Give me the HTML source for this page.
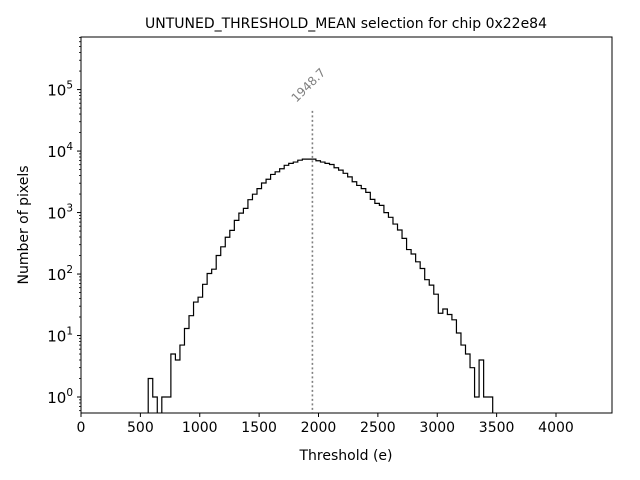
<!DOCTYPE html>
<html><head><meta charset="utf-8"><style>
body{margin:0;background:#fff;}
svg{display:block;font-family:"DejaVu Sans","Liberation Sans",sans-serif;}
</style></head><body>
<svg id="chart" width="640" height="480" viewBox="0 0 640 480">
<rect width="640" height="480" fill="#fff"/>
<text x="346" y="28" font-size="14" text-anchor="middle">UNTUNED_THRESHOLD_MEAN selection for chip 0x22e84</text>
<g id="axes"></g>
<path id="hist" fill="none" stroke="#000" stroke-width="1.2"/>
<rect x="81" y="37" width="531" height="376" fill="none" stroke="#000" stroke-width="1"/>
<text x="346" y="460" font-size="14" text-anchor="middle">Threshold (e)</text>
<text transform="translate(28,225) rotate(-90)" font-size="14" text-anchor="middle">Number of pixels</text>
</svg>
<script>
const binStart = 566;
const binWidth = 38.17;
const counts = [2,1,0,1,1,5,4,7,13,21,35,42,68,102,120,200,277,397,513,745,980,1170,1620,1990,2450,3020,3480,4170,4600,5150,5860,6300,6620,7100,7400,7400,
7400,6950,6620,6300,6050,5350,4900,4350,3800,3170,2760,2450,2130,1640,1410,1310,997,836,650,520,380,250,212,158,123,81,66,47,23,27,22,18,11,7,5,3,1,4,1,1];
const xTicks = [0,500,1000,1500,2000,2500,3000,3500,4000];
const yExps = [0,1,2,3,4,5];
const meanValue = 1948.7;
const meanTop = 45000;

const X0=81, X1=612, Y0=413, Y1=37;
const xMin=0, xMax=(X1-X0)/0.11875;
const lMin=-0.26, lMax=5.855;
function sx(v){return X0+(v-xMin)/(xMax-xMin)*(X1-X0);}
function sy(v){return Y0-(Math.log10(v)-lMin)/(lMax-lMin)*(Y0-Y1);}
const NS='http://www.w3.org/2000/svg';
const axes=document.getElementById('axes');
function mk(tag,attrs,parent){const e=document.createElementNS(NS,tag);for(const k in attrs)e.setAttribute(k,attrs[k]);(parent||axes).appendChild(e);return e;}

xTicks.forEach(t=>{
  const x=sx(t);
  const l=mk('line',{x1:x,x2:x,y1:Y0,y2:Y0+4,stroke:'#000'});
  
  
  const tx=mk('text',{x:x,y:Y0+19,'font-size':14,'text-anchor':'middle'});
  tx.textContent=t;
  
  
});
for(let e=-1;e<=5;e++){
  for(let m=2;m<=9;m++){
    const v=m*Math.pow(10,e);
    const y=sy(v);
    if(y<Y1||y>Y0)continue;
    const l=mk('line',{x1:X0-2,x2:X0,y1:y,y2:y,stroke:'#000','stroke-width':0.8});
    
    
  }
}
yExps.forEach(e=>{
  const y=sy(Math.pow(10,e));
  const l=mk('line',{x1:X0-4,x2:X0,y1:y,y2:y,stroke:'#000'});
  
  
  const tx=mk('text',{x:X0-8,y:y+6,'font-size':15,'text-anchor':'end'});
  tx.innerHTML='10<tspan dy="-7" font-size="10.5">'+e+'</tspan>';
  
  
});

// histogram step path
let d='';let pen=false;
const floorY=Y0+2;
counts.forEach((c,i)=>{
  const xa=sx(binStart+i*binWidth), xb=sx(binStart+(i+1)*binWidth);
  const y=c>0?sy(c):floorY;
  if(!pen){d+='M'+xa+','+floorY+' ';pen=true;}
  d+='L'+xa+','+y+' L'+xb+','+y+' ';
});
d+='L'+sx(binStart+counts.length*binWidth)+','+floorY;
const clip=mk('clipPath',{id:'pc'});
mk('rect',{x:X0,y:Y1,width:X1-X0,height:Y0-Y1},clip);
const h=document.getElementById('hist');
h.setAttribute('d',d);
h.setAttribute('clip-path','url(#pc)');

// mean line
const mx=sx(meanValue);
const ml=mk('line',{x1:mx,x2:mx,y1:sy(meanTop),y2:Y0,stroke:'#808080','stroke-width':1.6,'stroke-dasharray':'2,2.5'});


const mt=mk('text',{x:0,y:0,'font-size':12,fill:'#808080',transform:'translate('+(mx-16)+','+(sy(meanTop)-8)+') rotate(-45)'});
mt.textContent=meanValue.toFixed(1);


</script>
</body></html>
